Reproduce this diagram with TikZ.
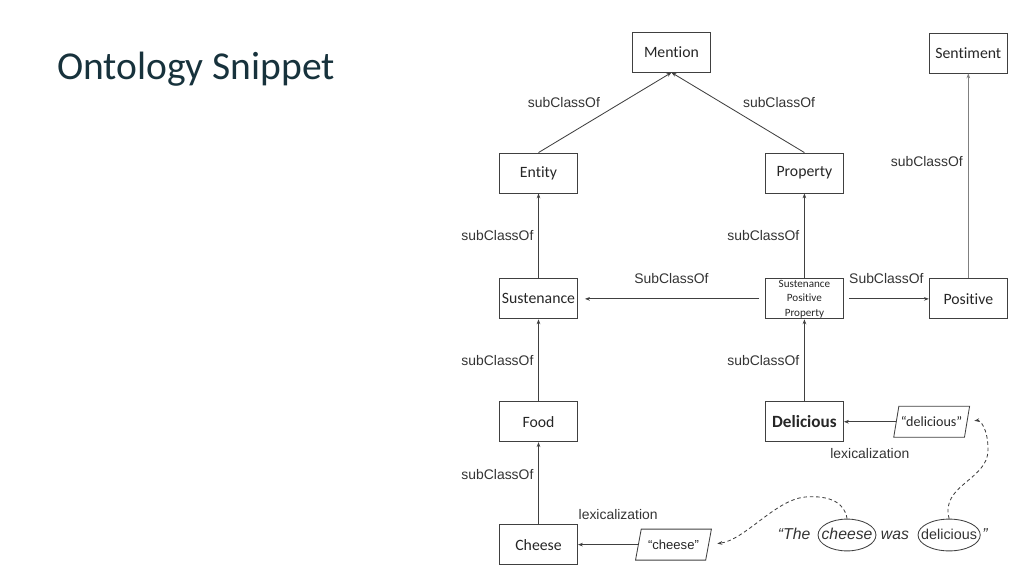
\documentclass[tikz,border=0pt]{standalone}
\usepackage{fontspec}
\setmainfont{Carlito}[Ligatures=NoCommon]
\newfontfamily\arialfont{Liberation Sans}
\usepackage{tikz}
\usetikzlibrary{arrows.meta,shapes.geometric,positioning,calc}

\definecolor{titlecol}{HTML}{17323C}
\definecolor{linecol}{HTML}{404040}

\begin{document}
\begin{tikzpicture}
  [x=0.025cm, y=-0.025cm,
   >={Stealth[length=3.5pt,width=2.6pt]},
   cls/.style={draw=linecol, line width=0.6pt, minimum width=1.95cm, minimum height=1cm, inner sep=0pt, text=black!85, font=\fontsize{11.2}{13}\selectfont},
   lit/.style={draw=linecol, line width=0.6pt, trapezium, trapezium left angle=69, trapezium right angle=111, trapezium stretches=true, minimum width=1.9cm, minimum height=0.775cm, inner sep=1pt, text=black!85},
   lbl/.style={text=black!80, font=\arialfont\fontsize{9.9}{12}\selectfont},
   sent/.style={inner sep=1pt, text height=8pt, text depth=2pt, text=black!80, font=\arialfont\itshape\fontsize{11.2}{13}\selectfont},
   word/.style={draw=linecol, ellipse, line width=0.6pt, inner ysep=3pt},
   rel/.style={->, draw=linecol, line width=0.6pt},
   hint/.style={->, draw=linecol, line width=0.6pt, dash pattern=on 2.5pt off 2pt}]
  \useasboundingbox (0,0) rectangle (1024,576);
  \node[anchor=base west, inner sep=0pt, text=titlecol, font=\fontsize{28.1}{32}\selectfont] (title) at (57,80) {Ontology Snippet};

  \node[cls] (entity) at (538.5,173) {Entity};
  \node[cls] (sustenance) [below=2.125cm of entity] {Sustenance};
  \node[cls] (food) [below=2.05cm of sustenance] {Food};
  \node[cls] (cheese) [below=2.05cm of food] {Cheese};
  \node[cls] (property) [right=4.675cm of entity] {Property};
  \node[cls, align=center, font=\fontsize{7.9}{10.3}\selectfont] (spp) [right=4.675cm of sustenance] {Sustenance\\Positive\\Property};
  \node[cls, font=\bfseries\fontsize{12.2}{14}\selectfont] (delicious) [below=2.05cm of spp] {Delicious};
  \node[cls] (positive) [right=2.125cm of spp] {Positive};
  \node[cls] (sentiment) [above=5.125cm of positive] {Sentiment};
  \coordinate (top) at ($(entity.north)!.5!(property.north)$);
  \node[cls] (mention) [above=2cm of top] {Mention};

  \node[lit, font=\arialfont\fontsize{9.3}{11}\selectfont] (cheeselit) [right=1.5cm of cheese] {“cheese”};
  \node[lit, font=\fontsize{10}{12}\selectfont] (delicilit) [right=1.3cm of delicious] {“delicious”};

  \node[sent, word, inner xsep=-3.5pt] (wcheese) at (847,535) {cheese};
  \node[sent] (wthe) [left=4pt of wcheese] {“The};
  \node[sent] (wwas) [right=2pt of wcheese] {was};
  \node[sent, word, inner xsep=-4.2pt, font=\arialfont\fontsize{10.2}{12}\selectfont] (wdelicious) [right=5pt of wwas] {delicious};
  \node[sent] (wend) [right=0pt of wdelicious] {”};

  \draw[rel] (entity.north) -- node[lbl, above left=0pt] {subClassOf} (mention.south);
  \draw[rel] (property.north) -- node[lbl, above right=0pt] {subClassOf} (mention.south);
  \draw[rel] (sustenance.north) -- node[lbl, left] {subClassOf} (entity.south);
  \draw[rel] (food.north) -- node[lbl, left] {subClassOf} (sustenance.south);
  \draw[rel] (cheese.north) -- node[lbl, left, pos=.6] {subClassOf} (food.south);
  \draw[rel] (spp.north) -- node[lbl, left] {subClassOf} (property.south);
  \draw[rel] (delicious.north) -- node[lbl, left] {subClassOf} (spp.south);
  \draw[rel, draw=gray, line width=1.1pt] (positive.north) -- node[lbl, left, pos=.57] {subClassOf} (sentiment.south);
  \draw[rel, shorten <=4pt, shorten >=5pt] (spp.west) -- node[lbl, above=7pt] {SubClassOf} (sustenance.east);
  \draw[rel, shorten <=4pt] (spp.east) -- node[lbl, above=7pt] {SubClassOf} (positive.west);
  \draw[rel] (cheeselit.west) -- node[lbl, above=14pt, pos=.33] {lexicalization} (cheese.east);
  \draw[rel] (delicilit.west) -- node[lbl, below=15pt] {lexicalization} (delicious.east);

  \draw[hint, shorten >=6pt] (wcheese.north) .. controls (845,503) and (830,495) .. (805,497) .. controls (775,500) and (745,540) .. (cheeselit.east);
  \draw[hint, shorten >=5pt] (wdelicious.north) .. controls (940,485) and (988,480) .. (988,450) .. controls (988,428) and (980,420) .. (delicilit.east);
\end{tikzpicture}
\end{document}
